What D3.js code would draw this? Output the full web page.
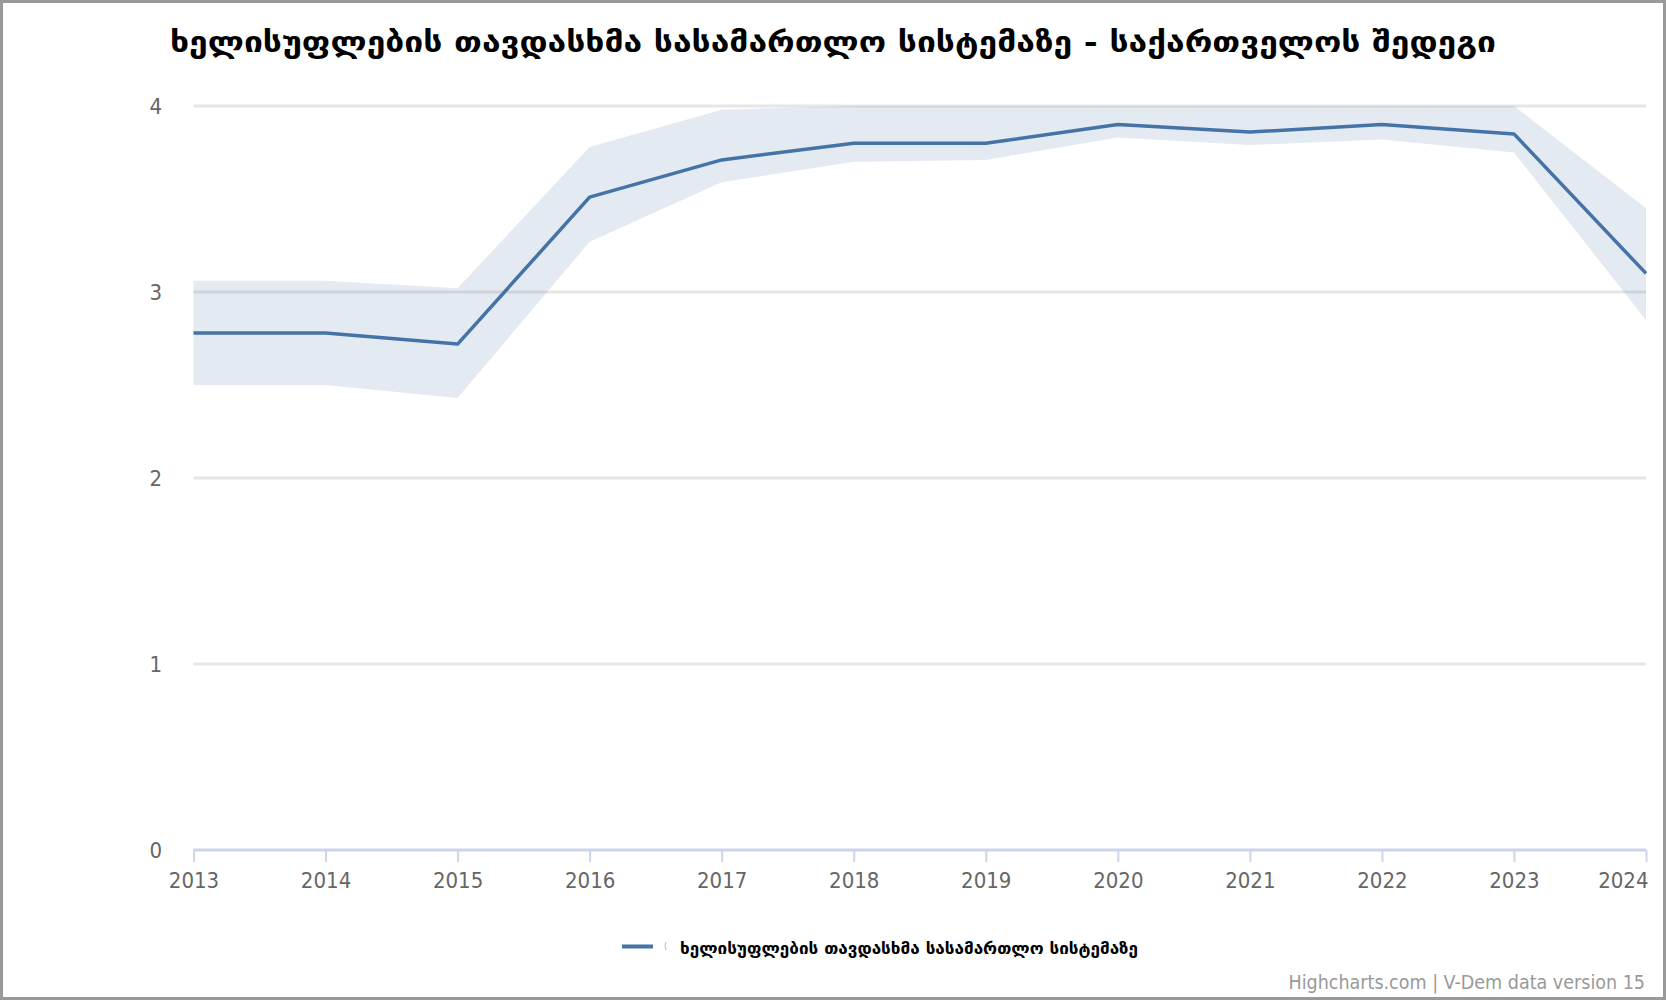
<!DOCTYPE html>
<html>
<head>
<meta charset="utf-8">
<script src="https://cdn.jsdelivr.net/npm/d3@7"></script>
<style>
  html, body { margin: 0; padding: 0; background: #fff; }
  svg { display: block; }
</style>
</head>
<body>
<svg id="chart" width="1666" height="1000"></svg>
<script>
const years = [2013, 2014, 2015, 2016, 2017, 2018, 2019, 2020, 2021, 2022, 2023, 2024];
const values = [2.78, 2.78, 2.72, 3.51, 3.71, 3.80, 3.80, 3.90, 3.86, 3.90, 3.85, 3.10];
const upper = [3.06, 3.06, 3.02, 3.78, 3.98, 4.00, 4.00, 4.00, 4.00, 4.00, 4.00, 3.45];
const lower = [2.50, 2.50, 2.43, 3.27, 3.59, 3.70, 3.71, 3.83, 3.79, 3.82, 3.75, 2.85];
const yTicks = [0, 1, 2, 3, 4];
const titleText = "ხელისუფლების თავდასხმა სასამართლო სისტემაზე - საქართველოს შედეგი";
const seriesName = "ხელისუფლების თავდასხმა სასამართლო სისტემაზე";
const creditsText = "Highcharts.com | V-Dem data version 15";

const svg = d3.select("#chart");
const W = 1666, H = 1000;
const pLeft = 193.5, pRight = 1646, pTop = 106, pBottom = 850;
const lineColor = "#4572a7";
const labelFont = "'Liberation Sans Narrow', 'DejaVu Sans Condensed', 'DejaVu Sans', sans-serif";
const geoFont = "'DejaVu Sans Condensed', 'DejaVu Sans', sans-serif";

svg.append("rect").attr("x", 0).attr("y", 0).attr("width", W).attr("height", H).attr("fill", "#fff");

const x = d3.scaleLinear().domain([2013, 2024]).range([pLeft, pRight]);
const y = d3.scaleLinear().domain([0, 4]).range([pBottom, pTop]);

// gridlines
svg.append("g").selectAll("line").data(yTicks.filter(d => d > 0)).join("line")
  .attr("x1", pLeft).attr("x2", pRight)
  .attr("y1", d => y(d)).attr("y2", d => y(d))
  .attr("stroke", "#e6e6e6").attr("stroke-width", 3);

// y labels
svg.append("g").selectAll("text").data(yTicks).join("text")
  .attr("x", 162).attr("y", d => y(d)).attr("dy", "0.35em")
  .attr("text-anchor", "end")
  .attr("font-family", labelFont).attr("font-size", 22).attr("fill", "#666")
  .text(d => d);

// band
const rows = years.map((yr, i) => ({ yr, v: values[i], lo: lower[i], hi: upper[i] }));
svg.append("path").datum(rows)
  .attr("d", d3.area().x(d => x(d.yr)).y0(d => y(d.lo)).y1(d => y(d.hi)))
  .attr("fill", lineColor).attr("fill-opacity", 0.15);

// x axis
const xAxis = d3.axisBottom(x).tickValues(years).tickFormat(d3.format("d")).tickSize(12).tickPadding(8);
const gx = svg.append("g").attr("transform", `translate(0,${pBottom})`).call(xAxis);
gx.select(".domain").attr("stroke", "#ccd6eb").attr("stroke-width", 3).attr("d", `M${pLeft},0H${pRight}`);
gx.selectAll(".tick line").attr("stroke", "#ccd6eb").attr("stroke-width", 2);
gx.selectAll(".tick text")
  .attr("font-family", labelFont).attr("font-size", 22).attr("fill", "#666")
  .attr("y", 38).attr("dy", 0)
  .attr("text-anchor", d => d === 2024 ? "end" : "middle")
  .attr("x", d => d === 2024 ? 2 : 0);

// line
svg.append("path").datum(rows)
  .attr("d", d3.line().x(d => x(d.yr)).y(d => y(d.v)))
  .attr("fill", "none").attr("stroke", lineColor).attr("stroke-width", 3.5).attr("stroke-linejoin", "round");

// title
svg.append("text")
  .attr("x", 170).attr("y", 52)
  .attr("font-family", geoFont).attr("font-weight", "bold").attr("font-size", 29)
  .attr("fill", "#000")
  .attr("textLength", 1326).attr("lengthAdjust", "spacingAndGlyphs")
  .text(titleText);

// legend
const lg = svg.append("g");
lg.append("line").attr("x1", 622).attr("x2", 653).attr("y1", 946.5).attr("y2", 946.5)
  .attr("stroke", lineColor).attr("stroke-width", 4);
lg.append("path").attr("d", "M666,942 Q664,946 666,950").attr("fill", "none").attr("stroke", "#bbb").attr("stroke-width", 1);
lg.append("text").attr("x", 680).attr("y", 954)
  .attr("font-family", geoFont).attr("font-weight", "bold").attr("font-size", 16.5)
  .attr("fill", "#000")
  .attr("textLength", 458).attr("lengthAdjust", "spacingAndGlyphs")
  .text(seriesName);

// credits
svg.append("text").attr("x", 1645).attr("y", 989).attr("text-anchor", "end")
  .attr("font-family", labelFont).attr("font-size", 19.5).attr("fill", "#999")
  .text(creditsText);

// border
svg.append("rect").attr("x", 1.5).attr("y", 1.5).attr("width", W - 3).attr("height", H - 3)
  .attr("fill", "none").attr("stroke", "#999").attr("stroke-width", 3);
</script>
</body>
</html>
